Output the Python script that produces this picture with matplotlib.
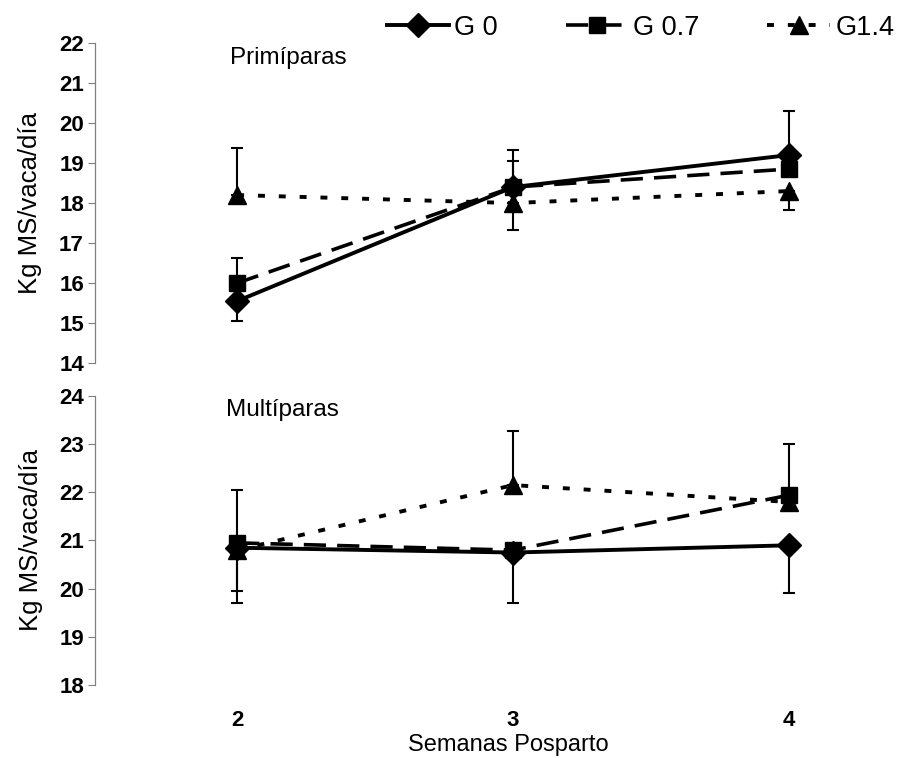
import numpy as np
import matplotlib
matplotlib.use('Agg')
import matplotlib.pyplot as plt

plt.rcParams['font.family'] = ['Liberation Sans', 'DejaVu Sans']
plt.rcParams['lines.scale_dashes'] = False

semanas = [2, 3, 4]
series = ['G 0', 'G 0.7', 'G1.4']

# Primiparas
prim_g0 = [15.55, 18.4, 19.2]
prim_g07 = [16.0, 18.4, 18.85]
prim_g14 = [18.2, 18.0, 18.3]
prim_g0_lo = [0.5, 0, 0]
prim_g0_up = [0, 0.93, 1.1]
prim_g07_lo = [0, 0, 0]
prim_g07_up = [0.62, 0.65, 0]
prim_g14_lo = [0, 0.67, 0.48]
prim_g14_up = [1.18, 0, 0]

# Multiparas
mult_g0 = [20.85, 20.75, 20.9]
mult_g07 = [20.95, 20.8, 21.94]
mult_g14 = [20.8, 22.15, 21.8]
mult_g0_lo = [0.9, 1.05, 0.98]
mult_g0_up = [0, 0, 0]
mult_g07_lo = [0, 0, 0]
mult_g07_up = [1.1, 0, 1.06]
mult_g14_lo = [1.1, 0, 0]
mult_g14_up = [0, 1.12, 0]

estilos = [
    dict(marker='D', ms=12, ls='-', lw=2.8),
    dict(marker='s', ms=12, ls=(0, (16, 8)), lw=2.6),
    dict(marker='^', ms=13, ls=(0, (5, 10)), lw=2.8),
]

fig = plt.figure(figsize=(8.97, 7.58), dpi=100)
ax1 = fig.add_axes([0.106, 0.521, 0.875, 0.4222])
ax2 = fig.add_axes([0.106, 0.0963, 0.875, 0.3813])


def panel(ax, medias, errores, ylim, titulo, tx, ty):
    handles = []
    for m, (lo, up), st in zip(medias, errores, estilos):
        lo = np.array(lo, float)
        up = np.array(up, float)
        x = np.array(semanas, float)
        mk = (lo + up) > 0
        ax.errorbar(x[mk], np.array(m)[mk], yerr=[lo[mk], up[mk]], fmt='none',
                    ecolor='black', elinewidth=1.5, capsize=4, capthick=1.5,
                    zorder=2)
        h, = ax.plot(semanas, m, color='black', marker=st['marker'],
                     ms=st['ms'], ls=st['ls'], lw=st['lw'], zorder=3)
        handles.append(h)
    ax.set_xlim(1.485, 4.33)
    ax.set_ylim(*ylim)
    ax.set_yticks(range(ylim[0], ylim[1] + 1))
    for s in ['top', 'right', 'bottom']:
        ax.spines[s].set_visible(False)
    ax.spines['left'].set_color('0.5')
    ax.spines['left'].set_linewidth(0.9)
    ax.tick_params(axis='y', length=5, width=0.8, color='0.5',
                   labelsize=16, pad=3)
    for t in ax.get_yticklabels():
        t.set_fontweight('bold')
    ax.set_ylabel('Kg MS/vaca/día', fontsize=18.5, labelpad=12)
    ax.text(tx, ty, titulo, fontsize=17.5, ha='left', va='center')
    return handles


hs = panel(ax1, [prim_g0, prim_g07, prim_g14],
           [(prim_g0_lo, prim_g0_up), (prim_g07_lo, prim_g07_up),
            (prim_g14_lo, prim_g14_up)], (14, 22), 'Primíparas', 1.975, 21.62)
ax1.set_xticks([])

panel(ax2, [mult_g0, mult_g07, mult_g14],
      [(mult_g0_lo, mult_g0_up), (mult_g07_lo, mult_g07_up),
       (mult_g14_lo, mult_g14_up)], (18, 24), 'Multíparas', 1.96, 23.7)
ax2.set_xticks(semanas)
ax2.set_xticklabels([str(s) for s in semanas], fontsize=16, fontweight='bold')
ax2.tick_params(axis='x', length=0, pad=18)
ax2.set_xlabel('Semanas Posparto', fontsize=17, va='center')
ax2.xaxis.set_label_coords(0.527, -0.207)

fig.legend(hs, series, loc='upper right', bbox_to_anchor=(1.024, 1.013),
           ncol=3, frameon=False, fontsize=19.5, handlelength=2.3,
           handletextpad=0.2, columnspacing=2.5)

fig.savefig('out.png', dpi=100)
